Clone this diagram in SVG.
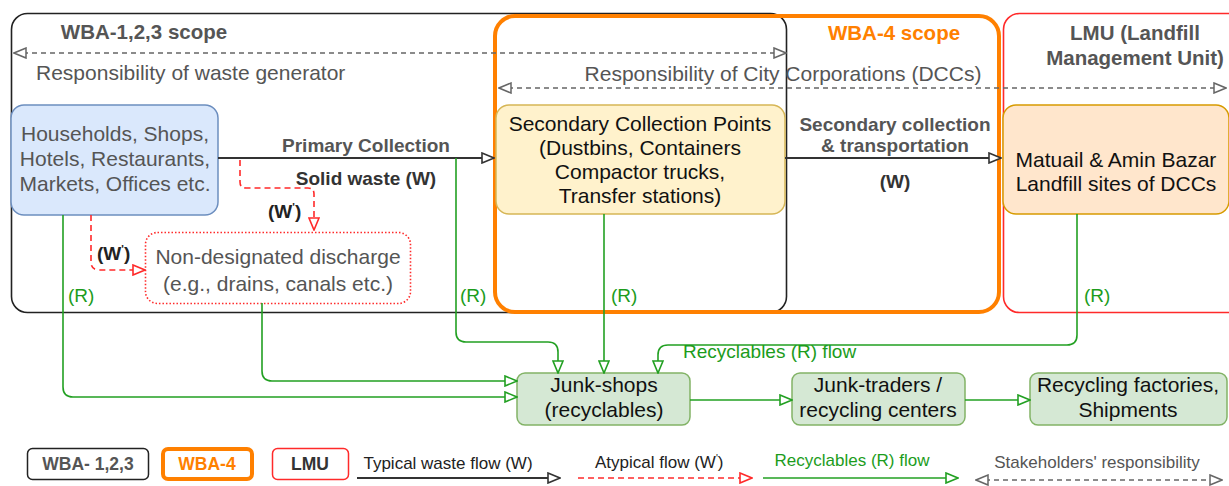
<svg xmlns="http://www.w3.org/2000/svg" width="1229" height="486" viewBox="0 0 1229 486">
<style>
text{font-family:"Liberation Sans",Arial,sans-serif}
.t{font-size:21px;fill:#111;text-anchor:middle}
.g{fill:#555}
.b{font-weight:bold}
.gr{fill:#1c9c1c}
.blk{fill:none;stroke:#333;stroke-width:2}
.red{fill:none;stroke:#ff2a2a;stroke-width:1.6;stroke-dasharray:6 4}
.grn{fill:none;stroke:#22a022;stroke-width:1.6}
.dsh{fill:none;stroke:#666;stroke-width:1.5;stroke-dasharray:5 4}
</style>
<defs>
<marker id="aK" viewBox="0 0 14 12" refX="13" refY="6" markerWidth="14" markerHeight="12" markerUnits="userSpaceOnUse" orient="auto-start-reverse"><path d="M1,1 L13,6 L1,11 z" fill="#fff" stroke="#333" stroke-width="1.6"/></marker>
<marker id="aR" viewBox="0 0 14 12" refX="13" refY="6" markerWidth="14" markerHeight="12" markerUnits="userSpaceOnUse" orient="auto-start-reverse"><path d="M1,1 L13,6 L1,11 z" fill="#fff" stroke="#ff2a2a" stroke-width="1.6"/></marker>
<marker id="aG" viewBox="0 0 14 12" refX="13" refY="6" markerWidth="14" markerHeight="12" markerUnits="userSpaceOnUse" orient="auto-start-reverse"><path d="M1,1 L13,6 L1,11 z" fill="#fff" stroke="#22a022" stroke-width="1.6"/></marker>
<marker id="aD" viewBox="0 0 14 12" refX="13" refY="6" markerWidth="14" markerHeight="12" markerUnits="userSpaceOnUse" orient="auto-start-reverse"><path d="M1,1 L13,6 L1,11 z" fill="#fff" stroke="#666" stroke-width="1.5"/></marker>
</defs>
<rect width="1229" height="486" fill="#fff"/>

<g id="scope-wba123">
<rect x="11.5" y="13.5" width="775" height="299" rx="16" fill="none" stroke="#222" stroke-width="1.6"/>
<text x="144" y="39" font-size="20.5" class="g b" text-anchor="middle">WBA-1,2,3 scope</text>
</g>
<g id="scope-wba4">
<rect x="495" y="16" width="504" height="296" rx="20" fill="none" stroke="#ff8000" stroke-width="4"/>
<text x="894" y="40" font-size="20.5" class="b" fill="#ff8000" text-anchor="middle">WBA-4 scope</text>
</g>
<g id="scope-lmu">
<rect x="1003.5" y="13.5" width="240" height="299" rx="16" fill="none" stroke="#ff2a2a" stroke-width="1.6"/>
<text x="1135" y="40" font-size="20.5" class="g b" text-anchor="middle">LMU (Landfill</text>
<text x="1135" y="65" font-size="20.5" class="g b" text-anchor="middle">Management Unit)</text>
</g>

<g id="responsibility">
<line x1="14" y1="53" x2="786" y2="53" class="dsh" marker-start="url(#aD)" marker-end="url(#aD)"/>
<text x="36" y="80" font-size="21" class="g">Responsibility of waste generator</text>
<line x1="499" y1="88" x2="1226" y2="88" class="dsh" marker-start="url(#aD)" marker-end="url(#aD)"/>
<text x="783" y="81" font-size="21" class="g" text-anchor="middle">Responsibility of City Corporations (DCCs)</text>
</g>

<g id="households">
<rect x="11" y="105" width="207" height="110" rx="13" fill="#dae8fc" stroke="#6c8ebf" stroke-width="1.5"/>
<text class="t g" x="115" y="141">Households, Shops,</text>
<text class="t g" x="115" y="166">Hotels, Restaurants,</text>
<text class="t g" x="115" y="191">Markets, Offices etc.</text>
</g>
<g id="secondary-points">
<rect x="496" y="105" width="289" height="109" rx="13" fill="#fff2cc" stroke="#d6b656" stroke-width="1.5"/>
<text class="t" x="640" y="131">Secondary Collection Points</text>
<text class="t" x="640" y="155">(Dustbins, Containers</text>
<text class="t" x="640" y="179">Compactor trucks,</text>
<text class="t" x="640" y="203">Transfer stations)</text>
</g>
<g id="landfill">
<rect x="1003" y="105" width="226" height="109" rx="13" fill="#ffe6cc" stroke="#d79b00" stroke-width="1.5"/>
<text class="t" x="1116" y="167">Matuail &amp; Amin Bazar</text>
<text class="t" x="1116" y="191">Landfill sites of DCCs</text>
</g>
<g id="non-designated">
<rect x="145.5" y="232.5" width="265" height="71" rx="12" fill="#fff" stroke="#ff2a2a" stroke-width="1.6" stroke-dasharray="1.5 2"/>
<text class="t g" x="278" y="264">Non-designated discharge</text>
<text class="t g" x="278" y="291">(e.g., drains, canals etc.)</text>
</g>
<g id="junk-shops">
<rect x="517" y="373" width="173" height="52" rx="8" fill="#d5e8d4" stroke="#82b366" stroke-width="1.5"/>
<text class="t" x="604" y="392">Junk-shops</text>
<text class="t" x="604" y="417">(recyclables)</text>
</g>
<g id="junk-traders">
<rect x="792" y="373" width="173" height="52" rx="8" fill="#d5e8d4" stroke="#82b366" stroke-width="1.5"/>
<text class="t" x="878" y="392">Junk-traders /</text>
<text class="t" x="878" y="417">recycling centers</text>
</g>
<g id="recycling-factories">
<rect x="1030" y="373" width="197" height="52" rx="8" fill="#d5e8d4" stroke="#82b366" stroke-width="1.5"/>
<text class="t" x="1128" y="392">Recycling factories,</text>
<text class="t" x="1128" y="417">Shipments</text>
</g>

<g id="connectors">
<path d="M218,158 H494" class="blk" marker-end="url(#aK)"/>
<text x="366" y="152" font-size="19" class="g b" text-anchor="middle">Primary Collection</text>
<text x="366" y="185" font-size="19" class="b" fill="#333" text-anchor="middle">Solid waste (W)</text>
<path d="M785,158 H1001" class="blk" marker-end="url(#aK)"/>
<text x="895" y="131" font-size="19" class="g b" text-anchor="middle">Secondary collection</text>
<text x="895" y="152" font-size="19" class="g b" text-anchor="middle">&amp; transportation</text>
<text x="895" y="188" font-size="19" class="b" fill="#333" text-anchor="middle">(W)</text>

<path d="M240,160 V182 Q240,188 246,188 H308 Q314,188 314,194 V230" class="red" marker-end="url(#aR)"/>
<text x="268" y="218" font-size="19" class="b" fill="#222">(W<tspan dy="-7" font-size="11">'</tspan><tspan dy="7">)</tspan></text>
<path d="M91,215 V262 Q91,270 99,270 H145" class="red" marker-end="url(#aR)"/>
<text x="97" y="260" font-size="19" class="b" fill="#222">(W<tspan dy="-7" font-size="11">'</tspan><tspan dy="7">)</tspan></text>

<path d="M63,215 V387 Q63,397 73,397 H517" class="grn" marker-end="url(#aG)"/>
<path d="M262,303 V371 Q262,381 272,381 H517" class="grn" marker-end="url(#aG)"/>
<path d="M456,158 V332 Q456,342 466,342 H548 Q558,342 558,352 V373" class="grn" marker-end="url(#aG)"/>
<path d="M604,214 V373" class="grn" marker-end="url(#aG)"/>
<path d="M1077,214 V335 Q1077,345 1067,345 H668 Q658,345 658,355 V373" class="grn" marker-end="url(#aG)"/>
<path d="M690,400 H792" class="grn" marker-end="url(#aG)"/>
<path d="M965,400 H1030" class="grn" marker-end="url(#aG)"/>
<text x="68" y="302" font-size="19" class="gr">(R)</text>
<text x="460" y="302" font-size="19" class="gr">(R)</text>
<text x="611" y="302" font-size="19" class="gr">(R)</text>
<text x="1084" y="302" font-size="19" class="gr">(R)</text>
<text x="683" y="358" font-size="19" class="gr">Recyclables (R) flow</text>
</g>

<g id="legend">
<rect x="27.5" y="448.5" width="121" height="31" rx="5" fill="#fff" stroke="#222" stroke-width="1.5"/>
<text x="88" y="470" font-size="17.5" class="g b" text-anchor="middle">WBA- 1,2,3</text>
<rect x="163" y="449" width="89" height="30" rx="5" fill="#fff" stroke="#ff8000" stroke-width="4"/>
<text x="207" y="470" font-size="17.5" class="b" fill="#ff8000" text-anchor="middle">WBA-4</text>
<rect x="272.5" y="448.5" width="76" height="31" rx="5" fill="#fff" stroke="#ff2a2a" stroke-width="1.5"/>
<text x="310" y="470" font-size="17.5" class="b" fill="#333" text-anchor="middle">LMU</text>
<text x="448" y="469" font-size="17" fill="#222" text-anchor="middle">Typical waste flow (W)</text>
<path d="M357,478 H560" class="blk" marker-end="url(#aK)"/>
<text x="595" y="468" font-size="17" fill="#222">Atypical flow (W<tspan dy="-6" font-size="10">'</tspan><tspan dy="6">)</tspan></text>
<path d="M578,478 H752" class="red" marker-end="url(#aR)"/>
<text x="852" y="466" font-size="17" class="gr" text-anchor="middle">Recyclables (R) flow</text>
<path d="M763,478 H958" class="grn" marker-end="url(#aG)"/>
<text x="1097" y="468" font-size="17" class="g" text-anchor="middle">Stakeholders' responsibility</text>
<path d="M976,480 H1222" class="dsh" marker-start="url(#aD)" marker-end="url(#aD)"/>
</g>
</svg>
